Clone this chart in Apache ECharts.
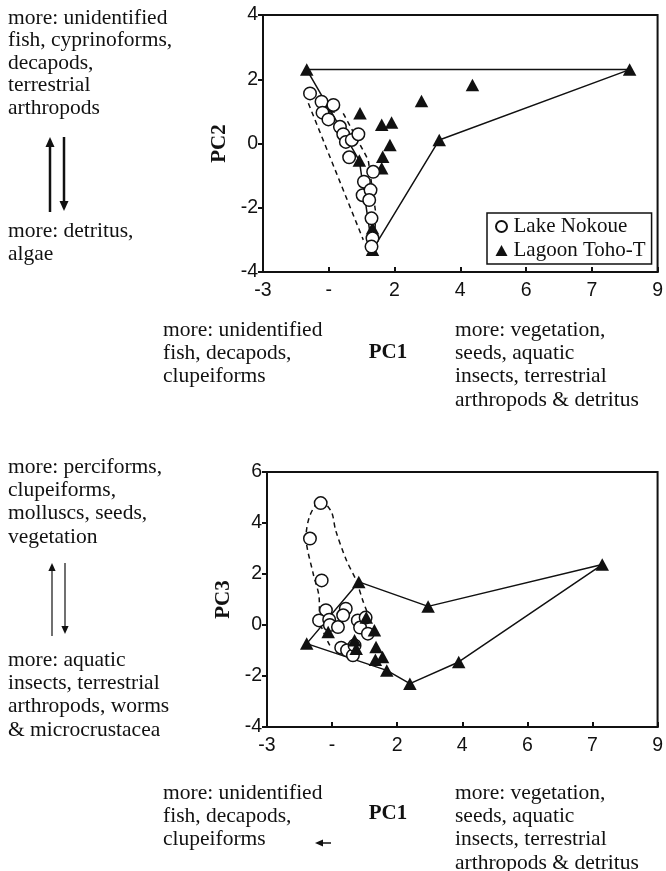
<!DOCTYPE html>
<html><head><meta charset="utf-8">
<script src="https://cdn.jsdelivr.net/npm/echarts@6/dist/echarts.min.js"></script>
<style>html,body{margin:0;padding:0;background:#fff}#c{width:666px;height:871px}</style>
</head><body><div id="c"></div>
<script>
// Printed PC1 tick labels (as they appear in the figure) at PC1 = -2, 0, 2, ..., 10
const xTickLabels = ['-3', '-', '2', '4', '6', '7', '9'];

// Panel 1: PC1 vs PC2
const topLake = [[-0.57,1.56],[-0.22,1.30],[0.14,1.20],[-0.19,0.96],[-0.01,0.75],[0.34,0.52],[0.44,0.29],[0.52,0.05],[0.70,0.11],[0.90,0.29],[0.62,-0.43],[1.35,-0.88],[1.07,-1.19],[1.03,-1.61],[1.27,-1.45],[1.23,-1.76],[1.30,-2.33],[1.33,-2.95],[1.30,-3.21]];
const topLagoon = [[-0.67,2.30],[9.15,2.30],[4.37,1.82],[2.82,1.32],[0.95,0.94],[1.61,0.58],[1.91,0.65],[3.36,0.11],[1.86,-0.05],[1.64,-0.41],[1.61,-0.77],[0.93,-0.53],[-0.01,1.15],[1.33,-2.64],[1.33,-3.31]];
const topLagoonHull = [[-0.67,2.30],[9.15,2.30],[3.36,0.11],[1.33,-3.31],[0.93,-0.53],[-0.67,2.30]];
const topLakeEnvLeft = [[-0.62,1.25],[1.05,-3.0]];
const topLakeEnvRight = [[0.44,0.94],[1.20,-0.51],[1.43,-2.17],[1.40,-2.79]];

// Panel 2: PC1 vs PC3
const botLake = [[-0.35,4.78],[-0.68,3.39],[-0.32,1.75],[-0.19,0.58],[-0.40,0.18],[-0.09,0.21],[-0.07,0.0],[0.18,-0.08],[0.42,0.64],[0.34,0.38],[0.79,0.18],[0.86,-0.10],[1.10,-0.34],[1.03,0.29],[0.28,-0.89],[0.46,-0.99],[0.64,-1.19],[0.69,-0.80]];
const botLagoon = [[-0.78,-0.73],[0.82,1.69],[2.95,0.73],[8.30,2.37],[3.89,-1.45],[2.39,-2.30],[1.68,-1.78],[-0.12,-0.27],[0.69,-0.60],[0.74,-0.93],[1.05,0.29],[1.30,-0.21],[1.35,-0.86],[1.55,-1.25],[1.33,-1.36]];
const botLagoonHull = [[-0.78,-0.73],[0.82,1.69],[2.95,0.73],[8.30,2.37],[3.89,-1.45],[2.39,-2.30],[1.68,-1.78],[-0.78,-0.73]];
const botLakeEnv = [[-0.07,-0.80],[-0.38,0.18],[-0.40,1.10],[-0.58,2.01],[-0.80,3.45],[-0.68,4.30],[-0.35,4.89],[-0.02,4.43],[0.11,3.71],[0.44,2.54],[0.74,1.75],[0.94,0.97],[1.10,0.44]];

// Annotation texts
const topLeftUp = ['more: unidentified','fish, cyprinoforms,','decapods,','terrestrial','arthropods'];
const topLeftDown = ['more: detritus,','algae'];
const botLeftUp = ['more: perciforms,','clupeiforms,','molluscs, seeds,','vegetation'];
const botLeftDown = ['more: aquatic','insects, terrestrial','arthropods, worms','& microcrustacea'];
const pc1Neg = ['more: unidentified','fish, decapods,','clupeiforms'];
const pc1Pos = ['more: vegetation,','seeds, aquatic','insects, terrestrial','arthropods & detritus'];

const SERIF = '"Liberation Serif","Times New Roman",serif';
const SANS = '"Liberation Sans",Arial,sans-serif';
const INK = '#111';
const FS = 21.5;

function textLines(lines, x, y0, lh, size) {
  return lines.map((t, i) => ({
    type: 'text', x: x, y: y0 + i * lh, silent: true,
    style: { text: t, font: size + 'px ' + SERIF, fill: INK, textVerticalAlign: 'middle', textAlign: 'left' }
  }));
}
function vArrow(x, y1, y2, w, head) {
  const dir = y2 > y1 ? 1 : -1;
  return [
    { type: 'line', silent: true, shape: { x1: x, y1: y1, x2: x, y2: y2 - dir * head }, style: { stroke: INK, lineWidth: w } },
    { type: 'polygon', silent: true, shape: { points: [[x - head * 0.45, y2 - dir * head], [x + head * 0.45, y2 - dir * head], [x, y2]] }, style: { fill: INK } }
  ];
}

const xAxisCommon = {
  type: 'value', min: -2, max: 10, interval: 2,
  axisLine: { show: true, onZero: false, lineStyle: { color: INK, width: 2 } },
  axisTick: { show: true, inside: true, length: 5, lineStyle: { color: INK, width: 2 } },
  axisLabel: { margin: 9, fontFamily: SANS, fontSize: 19.5, color: INK,
    formatter: v => xTickLabels[Math.round((v + 2) / 2)] },
  splitLine: { show: false }
};
const yAxisCommon = {
  type: 'value', interval: 2,
  axisLine: { show: true, onZero: false, lineStyle: { color: INK, width: 2 } },
  axisTick: { show: true, inside: false, length: 5, lineStyle: { color: INK, width: 2 } },
  axisLabel: { margin: 5, fontFamily: SANS, fontSize: 19.5, color: INK },
  splitLine: { show: false },
  nameLocation: 'middle', nameRotate: 90, nameGap: 31,
  nameTextStyle: { fontFamily: SERIF, fontWeight: 'bold', fontSize: 21, color: INK }
};

const solid = { color: INK, width: 1.5, type: 'solid' };
const dashed = { color: INK, width: 1.5, type: [5, 4] };
function lineSeries(data, xi, style, smooth) {
  return { type: 'line', xAxisIndex: xi, yAxisIndex: xi, data: data, symbol: 'none', silent: true,
    smooth: smooth || false, lineStyle: style, z: 1, animation: false };
}
function lake(data, xi, z) {
  return { name: 'Lake Nokoue', type: 'scatter', xAxisIndex: xi, yAxisIndex: xi, data: data,
    symbol: 'circle', symbolSize: 12.5, z: z,
    itemStyle: { color: '#fff', borderColor: INK, borderWidth: 1.5, opacity: 1 } };
}
function lagoon(data, xi, z) {
  return { name: 'Lagoon Toho-T', type: 'scatter', xAxisIndex: xi, yAxisIndex: xi, data: data,
    symbol: 'triangle', symbolSize: [13.5, 12.5], z: z,
    itemStyle: { color: INK, opacity: 1 } };
}

const graphics = [].concat(
  textLines(topLeftUp, 8, 18, 22.5, FS),
  vArrow(50, 212, 137, 2.5, 10),
  vArrow(64, 137, 211, 2.5, 10),
  textLines(topLeftDown, 8, 231, 23, FS),
  textLines(botLeftUp, 8, 467, 23.3, FS),
  vArrow(52, 636, 563, 1.2, 8),
  vArrow(65, 563, 634, 1.2, 8),
  textLines(botLeftDown, 8, 660, 23.3, FS),
  textLines(pc1Neg, 163, 330, 23.3, FS),
  textLines(pc1Pos, 455, 330, 23.3, FS),
  textLines(pc1Neg, 163, 793, 23.3, FS),
  textLines(pc1Pos, 455, 793, 23.3, FS),
  [
    { type: 'text', x: 388, y: 353, silent: true, style: { text: 'PC1', font: 'bold 21px ' + SERIF, fill: INK, textAlign: 'center', textVerticalAlign: 'middle' } },
    { type: 'text', x: 388, y: 814, silent: true, style: { text: 'PC1', font: 'bold 21px ' + SERIF, fill: INK, textAlign: 'center', textVerticalAlign: 'middle' } },
    { type: 'line', silent: true, shape: { x1: 331, y1: 843, x2: 322, y2: 843 }, style: { stroke: INK, lineWidth: 1.5 } },
    { type: 'polygon', silent: true, shape: { points: [[323, 839.5], [323, 846.5], [315, 843]] }, style: { fill: INK } }
  ]
);

const chart = echarts.init(document.getElementById('c'), null, { renderer: 'canvas' });
chart.setOption({
  animation: false,
  backgroundColor: '#fff',
  grid: [
    { left: 263, top: 15, width: 395, height: 257, show: true, borderColor: INK, borderWidth: 2, backgroundColor: 'transparent' },
    { left: 267, top: 472, width: 392, height: 255, show: true, borderColor: INK, borderWidth: 2, backgroundColor: 'transparent' }
  ],
  xAxis: [
    Object.assign({}, xAxisCommon, { gridIndex: 0 }),
    Object.assign({}, xAxisCommon, { gridIndex: 1 })
  ],
  yAxis: [
    Object.assign({}, yAxisCommon, { gridIndex: 0, min: -4, max: 4, name: 'PC2' }),
    Object.assign({}, yAxisCommon, { gridIndex: 1, min: -4, max: 6, name: 'PC3' })
  ],
  legend: {
    data: ['Lake Nokoue', 'Lagoon Toho-T'],
    orient: 'vertical', left: 487, top: 213,
    borderColor: INK, borderWidth: 1.5, padding: [3, 6, 3, 8],
    itemWidth: 12, itemHeight: 11, itemGap: 3, selectedMode: false,
    textStyle: { fontFamily: SERIF, fontSize: 21, color: INK, padding: [0, 0, 0, 1] }
  },
  graphic: graphics,
  series: [
    lineSeries(topLagoonHull, 0, solid),
    lineSeries(topLakeEnvLeft, 0, dashed),
    lineSeries(topLakeEnvRight, 0, dashed),
    lagoon(topLagoon, 0, 3),
    lake(topLake, 0, 4),
    lineSeries(botLagoonHull, 1, solid),
    lineSeries(botLakeEnv, 1, dashed, 0.3),
    lake(botLake, 1, 3),
    lagoon(botLagoon, 1, 4)
  ]
});
</script>
</body></html>
